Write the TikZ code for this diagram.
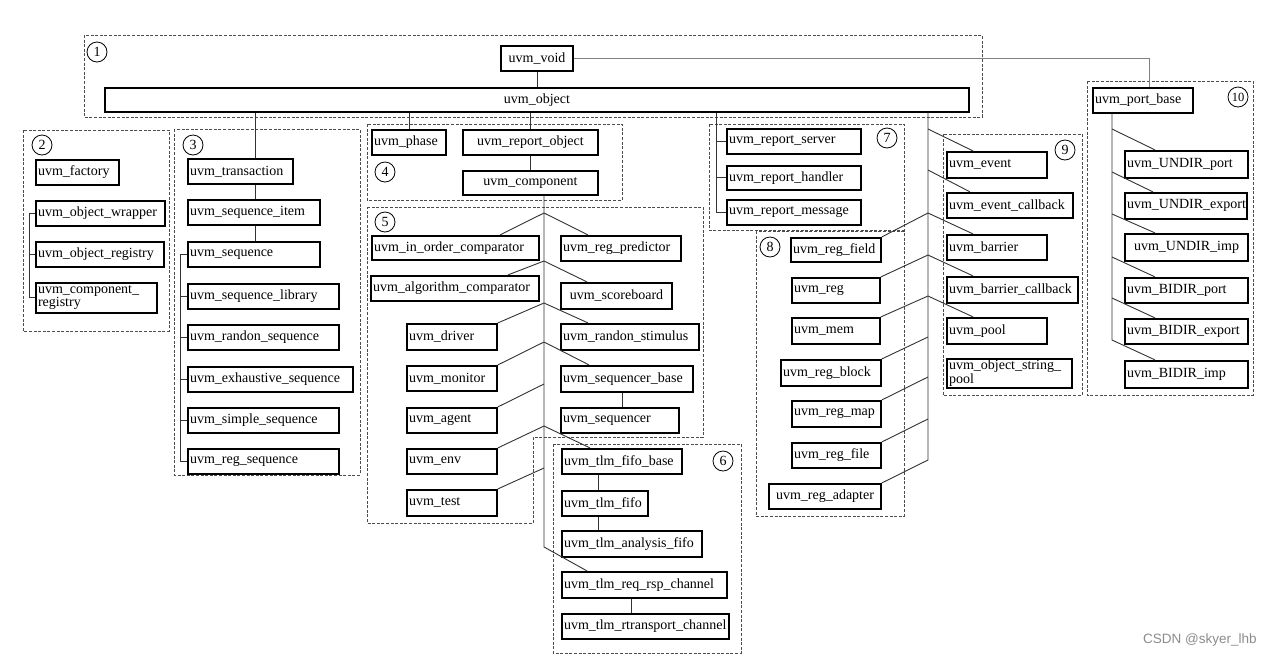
\documentclass[tikz,border=0pt]{standalone}
\usepackage{fontspec}
\setmainfont{Liberation Serif}
\newfontfamily\wmfont{Liberation Sans}
\begin{document}
\begin{tikzpicture}[x=1pt,y=-1pt,
  ubox/.style={draw, line width=1.8pt, inner xsep=2pt, inner ysep=0pt, align=left, font=\fontsize{14}{15}\selectfont},
  cbox/.style={ubox, align=center},
  tbox/.style={ubox, font=\fontsize{14}{10.5}\selectfont},
  conn/.style={line width=0.9pt, draw=black!80},
  gconn/.style={line width=0.9pt, draw=black!50},
  grp/.style={draw=black!70, line width=0.9pt, dash pattern=on 3pt off 1.6pt},
  numc/.style={circle, draw, line width=0.8pt, minimum size=20pt, inner sep=0pt, font=\fontsize{14}{14}\selectfont},
]
\newcommand{\ubx}[7][ubox]{%
  \pgfmathsetmacro{\uw}{#5-#3}\pgfmathsetmacro{\uh}{#6-#4}\pgfmathsetmacro{\utw}{#5-#3-4}%
  \node[#1, minimum width=\uw pt, minimum height=\uh pt, text width=\utw pt] (#2) at ({(#3+#5)/2},{(#4+#6)/2+0.8}) {#7};}
\useasboundingbox (0,0) rectangle (1275,657);
\fill[white] (0,0) rectangle (1275,657);

% dashed groups
\draw[grp] (84,35) rectangle (982,117);
\draw[grp] (23,130) rectangle (169,331);
\draw[grp] (174,129) rectangle (360,475);
\draw[grp] (367,124) rectangle (622,200);
\draw[grp] (367,207) -- (703,207) -- (703,437) -- (533,437) -- (533,523) -- (367,523) -- cycle;
\draw[grp] (553,444) rectangle (741,653);
\draw[grp] (709,124) rectangle (904,230);
\draw[grp] (756,231) rectangle (904,516);
\draw[grp] (943,134) rectangle (1082,395);
\draw[grp] (1087,81) rectangle (1253,395);

% number circles
\node[numc] (c1) at (97,52) {1};
\node[numc] (c2) at (42,145) {2};
\node[numc] (c3) at (193,145) {3};
\node[numc] (c4) at (385,172) {4};
\node[numc] (c5) at (385,222) {5};
\node[numc] (c6) at (723,461) {6};
\node[numc] (c7) at (887,138) {7};
\node[numc] (c8) at (770,247) {8};
\node[numc] (c9) at (1065,150) {9};
\node[numc, font=\fontsize{12.5}{12}\selectfont] (c10) at (1238,97) {10};

% boxes
\ubx[cbox]{void}{501}{45}{573}{70}{uvm\_void}
\ubx[cbox]{obj}{105}{87}{969}{111}{uvm\_object}
\ubx{factory}{36}{159}{119}{184}{uvm\_factory}
\ubx{wrapper}{36}{200}{165}{225}{uvm\_object\_wrapper}
\ubx{objreg}{36}{241}{164}{266}{uvm\_object\_registry}
\ubx[tbox]{compreg}{36}{282}{157}{312}{uvm\_component\_\\registry}
\ubx{trans}{188}{158}{293}{183}{uvm\_transaction}
\ubx{seqitem}{188}{199}{320}{224}{uvm\_sequence\_item}
\ubx{seq}{188}{241}{320}{266}{uvm\_sequence}
\ubx{seqlib}{188}{283}{339}{308}{uvm\_sequence\_library}
\ubx{randseq}{188}{324}{339}{349}{uvm\_randon\_sequence}
\ubx{exhseq}{188}{366}{353}{391}{uvm\_exhaustive\_sequence}
\ubx{simpseq}{188}{407}{339}{432}{uvm\_simple\_sequence}
\ubx{regseq}{188}{448}{339}{473}{uvm\_reg\_sequence}
\ubx{phase}{372}{129}{446}{154}{uvm\_phase}
\ubx[cbox]{repobj}{463}{129}{598}{154}{uvm\_report\_object}
\ubx[cbox]{comp}{463}{170}{598}{194}{uvm\_component}
\ubx{inorder}{372}{235}{539}{259}{uvm\_in\_order\_comparator}
\ubx{regpred}{561}{235}{681}{260}{uvm\_reg\_predictor}
\ubx{algo}{371}{275}{539}{300}{uvm\_algorithm\_comparator}
\ubx[cbox]{score}{561}{282}{672}{308}{uvm\_scoreboard}
\ubx{driver}{407}{323}{497}{349}{uvm\_driver}
\ubx{stim}{561}{323}{699}{349}{uvm\_randon\_stimulus}
\ubx{monitor}{407}{365}{497}{390}{uvm\_monitor}
\ubx{seqbase}{561}{365}{693}{391}{uvm\_sequencer\_base}
\ubx{agent}{407}{407}{497}{432}{uvm\_agent}
\ubx{seqr}{561}{407}{679}{432}{uvm\_sequencer}
\ubx{env}{407}{448}{497}{473}{uvm\_env}
\ubx{test}{407}{489}{497}{515}{uvm\_test}
\ubx{fifobase}{562}{448}{682}{473}{uvm\_tlm\_fifo\_base}
\ubx{fifo}{562}{490}{648}{515}{uvm\_tlm\_fifo}
\ubx{afifo}{562}{530}{702}{556}{uvm\_tlm\_analysis\_fifo}
\ubx{reqrsp}{562}{571}{727}{597}{uvm\_tlm\_req\_rsp\_channel}
\ubx{rtrans}{562}{613}{729}{638}{uvm\_tlm\_rtransport\_channel}
\ubx{repserver}{727}{128}{861}{153}{uvm\_report\_server}
\ubx{rephandler}{727}{165}{861}{189}{uvm\_report\_handler}
\ubx{repmsg}{727}{199}{861}{224}{uvm\_report\_message}
\ubx{event}{947}{151}{1047}{177}{uvm\_event}
\ubx{eventcb}{947}{192}{1073}{217}{uvm\_event\_callback}
\ubx{barrier}{947}{234}{1047}{259}{uvm\_barrier}
\ubx{barriercb}{947}{276}{1078}{302}{uvm\_barrier\_callback}
\ubx{pool}{947}{317}{1047}{343}{uvm\_pool}
\ubx[tbox]{strpool}{947}{358}{1072}{387}{uvm\_object\_string\_\\pool}
\ubx{regfield}{791}{237}{881}{261}{uvm\_reg\_field}
\ubx{reg}{792}{277}{880}{302}{uvm\_reg}
\ubx{mem}{792}{317}{880}{343}{uvm\_mem}
\ubx{regblock}{781}{359}{881}{385}{uvm\_reg\_block}
\ubx{regmap}{792}{400}{881}{426}{uvm\_reg\_map}
\ubx{regfile}{792}{442}{881}{467}{uvm\_reg\_file}
\ubx[cbox]{regadapter}{769}{483}{881}{508}{uvm\_reg\_adapter}
\ubx{pbase}{1093}{87}{1193}{112}{uvm\_port\_base}
\ubx{undirport}{1125}{150}{1248}{177}{uvm\_UNDIR\_port}
\ubx{undirexp}{1125}{192}{1247}{218}{uvm\_UNDIR\_export}
\ubx[cbox]{undirimp}{1125}{233}{1248}{260}{uvm\_UNDIR\_imp}
\ubx{bidirport}{1125}{277}{1248}{302}{uvm\_BIDIR\_port}
\ubx{bidirexp}{1125}{318}{1248}{343}{uvm\_BIDIR\_export}
\ubx{bidirimp}{1125}{360}{1248}{387}{uvm\_BIDIR\_imp}

% top connectors
\draw[conn] (void.south) -- (obj.north);
\draw[gconn] (void.east) -| (1149,0 |- pbase.north);

% group 2 bracket
\draw[conn] (wrapper.west -| 29,0) -- (29,0 |- compreg.west) -- (compreg.west);
\draw[conn] (wrapper.west -| 29,0) -- (wrapper.west);
\draw[conn] (objreg.west -| 29,0) -- (objreg.west);

% group 3
\draw[conn] (255,0 |- obj.south) -- (255,0 |- trans.north);
\draw[conn] (255,0 |- trans.south) -- (255,0 |- seqitem.north);
\draw[conn] (255,0 |- seqitem.south) -- (255,0 |- seq.north);
\draw[conn] (seq.west -| 180,0) -- (180,0 |- regseq.west) -- (regseq.west);
\draw[conn] (seq.west -| 180,0) -- (seq.west);
\foreach \n in {seqlib,randseq,exhseq,simpseq}
  \draw[conn] (\n.west -| 180,0) -- (\n.west);

% group 4
\draw[conn] (obj.south -| phase.north) -- (phase.north);
\draw[conn] (obj.south -| repobj.north) -- (repobj.north);
\draw[conn] (repobj.south) -- (comp.north);

% group 5 trunk and fans
\coordinate (tb) at (544,547);
\draw[conn] (544,0 |- comp.south) -- (tb) -- (587,0 |- reqrsp.north);
\coordinate (f1) at (544,213);
\coordinate (f2) at (544,261);
\coordinate (f3) at (544,303);
\coordinate (f4) at (544,342);
\coordinate (f5) at (544,384);
\coordinate (f6) at (544,426);
\coordinate (f7) at (544,468);
\draw[conn] (500,0 |- inorder.north) -- (f1) -- (588,0 |- regpred.north);
\draw[conn] (508,0 |- algo.north) -- (f2) -- (587,0 |- score.north);
\draw[conn] (driver.north east) -- (f3) -- (588,0 |- stim.north);
\draw[conn] (monitor.north east) -- (f4) -- (589,0 |- seqbase.north);
\draw[conn] (agent.north east) -- (f5);
\draw[conn] (env.north east) -- (f6) -- (590,0 |- fifobase.north);
\draw[conn] (test.north east) -- (f7);
\draw[conn] (622,0 |- seqbase.south) -- (622,0 |- seqr.north);

% group 6
\draw[conn] (598,0 |- fifobase.south) -- (598,0 |- fifo.north);
\draw[conn] (598,0 |- fifo.south) -- (598,0 |- afifo.north);
\draw[conn] (631,0 |- reqrsp.south) -- (631,0 |- rtrans.north);

% group 7
\draw[conn] (716,0 |- obj.south) -- (716,0 |- repmsg.west) -- (repmsg.west);
\draw[conn] (repserver.west -| 716,0) -- (repserver.west);
\draw[conn] (rephandler.west -| 716,0) -- (rephandler.west);

% groups 8 and 9
\coordinate (gb) at (928,460);
\draw[conn] (928,0 |- obj.south) -- (gb) -- (regadapter.north east);
\coordinate (g1) at (928,129);
\coordinate (g2) at (928,170);
\coordinate (g3) at (928,213);
\coordinate (g4) at (928,255);
\coordinate (g5) at (928,296);
\coordinate (g6) at (928,337);
\coordinate (g7) at (928,377);
\coordinate (g8) at (928,419);
\draw[conn] (g1) -- (973,0 |- event.north);
\draw[conn] (g2) -- (970,0 |- eventcb.north);
\draw[conn] (regfield.north east) -- (g3) -- (973,0 |- barrier.north);
\draw[conn] (reg.north east) -- (g4) -- (973,0 |- barriercb.north);
\draw[conn] (mem.north east) -- (g5) -- (973,0 |- pool.north);
\draw[conn] (regblock.north east) -- (g6);
\draw[conn] (regmap.north east) -- (g7);
\draw[conn] (regfile.north east) -- (g8);

% group 10
\coordinate (hb) at (1112,340);
\draw[conn] (1112,0 |- pbase.south) -- (hb) -- (1155,0 |- bidirimp.north);
\coordinate (h1) at (1112,129);
\coordinate (h2) at (1112,172);
\coordinate (h3) at (1112,214);
\coordinate (h4) at (1112,257);
\coordinate (h5) at (1112,298);
\draw[conn] (h1) -- (1155,0 |- undirport.north);
\draw[conn] (h2) -- (1153,0 |- undirexp.north);
\draw[conn] (h3) -- (1155,0 |- undirimp.north);
\draw[conn] (h4) -- (1155,0 |- bidirport.north);
\draw[conn] (h5) -- (1155,0 |- bidirexp.north);

% watermark
\node[anchor=west, inner sep=0pt, text=black!45, font=\wmfont\fontsize{13.5}{14}\selectfont] (wm) at (1143,640) {CSDN @skyer\_lhb};
\end{tikzpicture}
\end{document}
